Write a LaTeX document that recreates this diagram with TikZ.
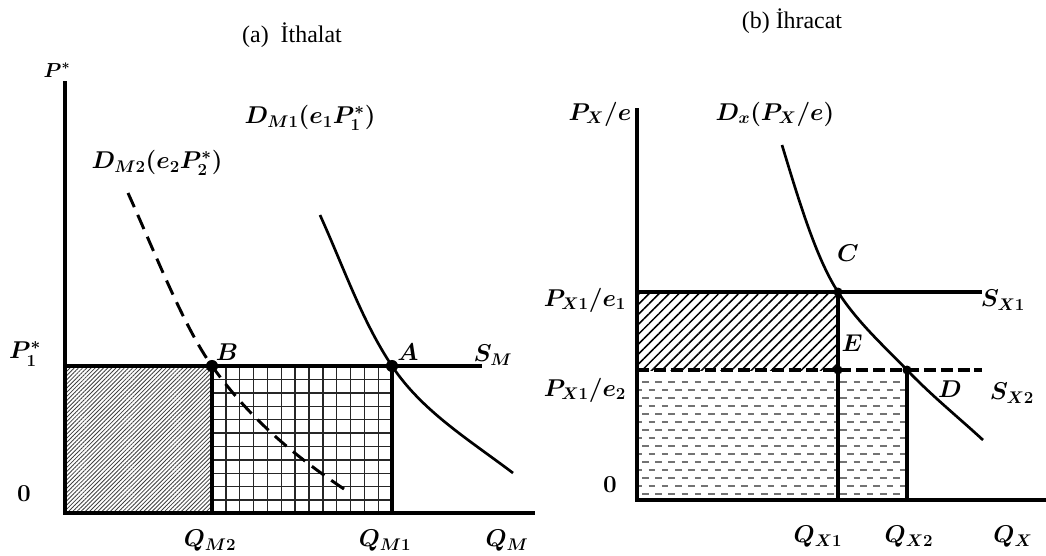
\documentclass[tikz,border=0pt]{standalone}
\usepackage{fontspec}
\setmainfont{Liberation Serif}
\usepackage{amsmath}
\usepackage{tikz}
\usetikzlibrary{
  patterns.meta,
  calc
}
\tikzset{
  axisline/.style={line width=2.8pt, line cap=rect},
  supline/.style={line width=2.2pt},
  supdash/.style={supline, dash pattern=on 8.5pt off 3.5pt},
  demand/.style={line width=1.9pt},
  demdash/.style={line width=2.1pt, dash pattern=on 11pt off 6pt},
  qline/.style={line width=2.2pt},
  bigdot/.style={fill=black},
  lbl/.style={font=\LARGE, inner sep=0pt},
  ttl/.style={font=\fontsize{17}{20}\selectfont, inner sep=0pt},
  finehatch/.style={pattern={Lines[angle=45, distance=2.1pt, line width=0.6pt]}, pattern color=black!75},
  coarsehatch/.style={pattern={Lines[angle=45, distance=5pt, line width=1.1pt]}, pattern color=black},
  gridline/.style={line width=1pt, black!85},
  dashrow/.style={line width=1.3pt, black!55, dash pattern=on 4.7pt off 4.7pt}
}

\begin{document}
\begin{tikzpicture}[x=0.025cm, y=-0.025cm]
  \useasboundingbox (0,0) rectangle (1046,555);

  % (a) import panel
  \coordinate (o1) at (65,513);
  \coordinate (y1) at (65,83);
  \coordinate (x1) at (533,513);
  \coordinate (sm0) at (65,366);
  \coordinate (sm1) at (482,366);
  \coordinate (B) at (212,366);
  \coordinate (A) at (392,366);
  \coordinate (qm2) at (212,513);
  \coordinate (qm1) at (392,513);
  \coordinate (dm2a) at (128,193);
  \coordinate (dm2b) at (350,493);
  \coordinate (dm1a) at (320,215);
  \coordinate (dm1b) at (513,473);

  \fill[finehatch] (o1) rectangle (B);
  \foreach \i in {1,...,12}{
    \draw[gridline] ($(B)+(\i*13.85,0)$) -- ($(qm2)+(\i*13.85,0)$);
  }
  \foreach \j in {1,...,10}{
    \draw[gridline] ($(B)+(0,\j*13.4)$) -- ($(A)+(0,\j*13.4)$);
  }
  \draw[qline] (B) -- (qm2);
  \draw[qline] (A) -- (qm1);
  \draw[supline] (sm0) -- (sm1);
  \draw[demdash] (dm2a) .. controls (156,255) and (184,327) .. (B)
                        .. controls (252,422) and (300,460) .. (dm2b);
  \draw[demand] (dm1a) .. controls (344,268) and (362,321) .. (A)
                       .. controls (422,411) and (468,439) .. (dm1b);
  \draw[axisline] (y1) -- (o1) -- (x1);
  \fill[bigdot] (B) circle[radius=4.3pt];
  \fill[bigdot] (A) circle[radius=4.3pt];

  \node[ttl] (ttl-a) at (292,35) {(a)\ \ İthalat};
  \node[lbl, font=\Large] (l-pstar) at (57,70) {$\boldsymbol{P^{*}}$};
  \node[lbl] (l-dm1) at (310,118) {$\boldsymbol{D_{M1}(e_1P_1^{*})}$};
  \node[lbl] (l-dm2) at (157,163) {$\boldsymbol{D_{M2}(e_2P_2^{*})}$};
  \node[lbl] (l-p1) at (25,354) {$\boldsymbol{P_1^{*}}$};
  \node[lbl] (l-zero1) at (24,494) {$\boldsymbol{0}$};
  \node[lbl] (l-B) at (227,352) {$\boldsymbol{B}$};
  \node[lbl] (l-A) at (408,352) {$\boldsymbol{A}$};
  \node[lbl] (l-sm) at (493,355) {$\boldsymbol{S_M}$};
  \node[lbl] (l-qm2) at (210,541) {$\boldsymbol{Q_{M2}}$};
  \node[lbl] (l-qm1) at (385,541) {$\boldsymbol{Q_{M1}}$};
  \node[lbl] (l-qm) at (507,541) {$\boldsymbol{Q_M}$};

  % (b) export panel
  \coordinate (o2) at (637,500);
  \coordinate (y2) at (637,110);
  \coordinate (x2) at (1046,500);
  \coordinate (sx1a) at (637,292);
  \coordinate (sx1b) at (982,292);
  \coordinate (sx2a) at (637,370);
  \coordinate (sx2b) at (982,370);
  \coordinate (C) at (838,292);
  \coordinate (E) at (838,370);
  \coordinate (D) at (907,370);
  \coordinate (qx1) at (838,500);
  \coordinate (qx2) at (907,500);
  \coordinate (dxa) at (782,145);
  \coordinate (dxb) at (983,440);

  \fill[coarsehatch] (sx2a) rectangle (C);
  \begin{scope}
    \clip (o2) rectangle (D);
    \foreach \k in {0,...,14}{
      \pgfmathsetmacro{\shift}{mod(\k,2)*6.6}
      \draw[dashrow] (642-\shift,382+\k*8) -- (907,382+\k*8);
    }
  \end{scope}
  \draw[qline] (C) -- (qx1);
  \draw[qline] (D) -- (qx2);
  \draw[supline] (sx1a) -- (sx1b);
  \draw[supdash] (sx2a) -- (sx2b);
  \draw[demand] (dxa) .. controls (799,201) and (816,258) .. (C)
                      .. controls (858,323) and (885,347) .. (D)
                      .. controls (932,396) and (958,417) .. (dxb);
  \draw[axisline] (y2) -- (o2) -- (x2);
  \fill[bigdot] (C) circle[radius=3.2pt];
  \fill[bigdot] (E) circle[radius=3.2pt];
  \fill[bigdot] (D) circle[radius=3.2pt];

  \node[ttl] (ttl-b) at (792,21) {(b) İhracat};
  \node[lbl] (l-px) at (600,114) {$\boldsymbol{P_X/e}$};
  \node[lbl] (l-dx) at (775,114) {$\boldsymbol{D_x(P_X/e)}$};
  \node[lbl] (l-C) at (848,253) {$\boldsymbol{C}$};
  \node[lbl] (l-E) at (852,343) {$\boldsymbol{E}$};
  \node[lbl] (l-D) at (950,389) {$\boldsymbol{D}$};
  \node[lbl] (l-sx1) at (1003,300) {$\boldsymbol{S_{X1}}$};
  \node[lbl] (l-sx2) at (1012,393) {$\boldsymbol{S_{X2}}$};
  \node[lbl] (l-pe1) at (585,300) {$\boldsymbol{P_{X1}/e_1}$};
  \node[lbl] (l-pe2) at (585,390) {$\boldsymbol{P_{X1}/e_2}$};
  \node[lbl] (l-zero2) at (610,485) {$\boldsymbol{0}$};
  \node[lbl] (l-qx1) at (818,537) {$\boldsymbol{Q_{X1}}$};
  \node[lbl] (l-qx2) at (909,537) {$\boldsymbol{Q_{X2}}$};
  \node[lbl] (l-qx) at (1013,537) {$\boldsymbol{Q_X}$};
\end{tikzpicture}
\end{document}
